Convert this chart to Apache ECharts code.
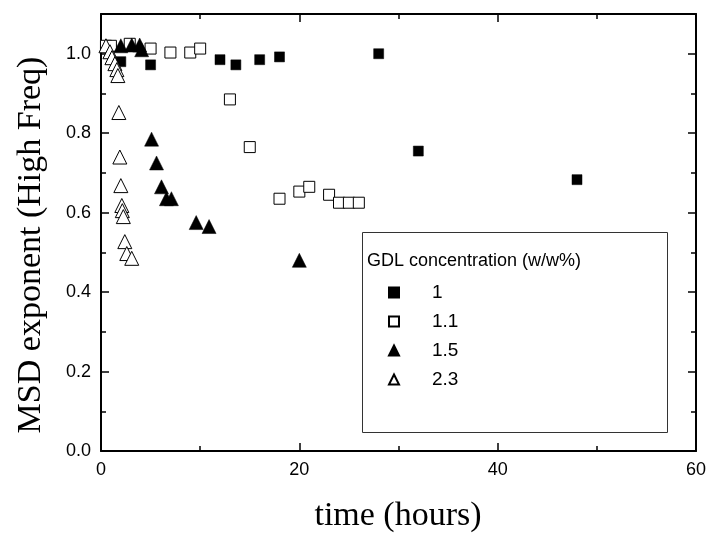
<!DOCTYPE html>
<html>
<head>
<meta charset="utf-8">
<script src="https://cdn.jsdelivr.net/npm/echarts@6/dist/echarts.min.js"></script>
<style>html,body{margin:0;padding:0;background:#fff}#c{width:710px;height:534px}</style>
</head>
<body>
<div id="c"></div>
<script>
// Data (time in hours, MSD exponent)
var seriesNames = ['1', '1.1', '1.5', '2.3'];
var gdl1 = [[2,0.98],[5,0.972],[12,0.985],[13.6,0.972],[16,0.985],[18,0.992],[28,1.0],[32,0.755],[48,0.683]];
var gdl11 = [[0.5,1.02],[1.0,1.02],[2.9,1.025],[5,1.013],[7,1.003],[9,1.003],[10,1.013],[13,0.885],[15,0.765],[18,0.635],[20,0.653],[21,0.665],[23,0.645],[24,0.625],[25,0.625],[26,0.625]];
var gdl15 = [[2,1.02],[3.1,1.022],[3.9,1.022],[4.1,1.01],[5.1,0.785],[5.6,0.725],[6.1,0.665],[6.6,0.635],[7.1,0.635],[9.6,0.575],[10.9,0.565],[20,0.48]];
var gdl23 = [[0.5,1.02],[0.9,1.005],[1.1,0.99],[1.4,0.975],[1.6,0.96],[1.7,0.945],[1.8,0.852],[1.9,0.74],[2.0,0.668],[2.1,0.618],[2.15,0.605],[2.25,0.59],[2.4,0.527],[2.6,0.497],[3.1,0.485]];
var xTicks = {min:0, max:60, interval:20};
var yTicks = {min:0, max:1.1, interval:0.2};
var xTitle = 'time (hours)';
var yTitle = 'MSD exponent (High Freq)';
var legendTitle = 'GDL concentration (w/w%)';

var chart = echarts.init(document.getElementById('c'));
var FONT = '"Liberation Sans", Arial, sans-serif';
function mkAxis(range, pos, show, fmt){
  return {type:'value', position:pos, min:range.min, max:range.max, interval:range.interval,
    axisLine:{show:true, onZero:false, lineStyle:{color:'#000', width:2}},
    axisTick:{show:true, inside:true, length:8, lineStyle:{color:'#000', width:1.5}},
    minorTick:{show:true, splitNumber:2, length:5, lineStyle:{color:'#000', width:1.5}},
    axisLabel:{show:show, showMaxLabel:(pos==='bottom'), margin:10, color:'#000', fontSize:18, fontFamily:FONT,
      formatter:fmt},
    splitLine:{show:false}, minorSplitLine:{show:false}};
}
function sc(name, data, symbol, size, filled){
  return {name:name, type:'scatter', xAxisIndex:0, yAxisIndex:0, data:data, symbol:symbol, symbolSize:size,
    itemStyle: filled ? {color:'#000', borderColor:'#000', borderWidth:0.5, opacity:1}
                      : {color:'#fff', borderColor:'#000', borderWidth:1, opacity:1},
    emphasis:{disabled:true}};
}
chart.setOption({
  animation:false,
  backgroundColor:'#fff',
  grid:{left:101, right:14, top:14, bottom:83},
  xAxis:[mkAxis(xTicks,'bottom',true,function(v){return String(v);}), mkAxis(xTicks,'top',false)],
  yAxis:[mkAxis(yTicks,'left',true,function(v){return v.toFixed(1);}), mkAxis(yTicks,'right',false)],
  legend:{orient:'vertical', left:383, top:278, itemWidth:10, itemHeight:10, itemGap:10,
    textStyle:{color:'#000', fontSize:19, fontFamily:FONT, padding:[0,0,0,28]},
    data:seriesNames},
  graphic:[
    {type:'rect', left:362, top:232, shape:{width:305, height:200}, style:{fill:'#fff', stroke:'#333', lineWidth:1}, z:0},
    {type:'text', left:367, top:252, style:{text:legendTitle, fill:'#000', font:'18px ' + FONT}, z:1},
    {type:'text', x:398, y:516, style:{text:xTitle, fill:'#000', align:'center', verticalAlign:'middle', font:'34px "Liberation Serif", "Times New Roman", serif'}, z:1},
    {type:'text', x:31, y:245, rotation:Math.PI/2, style:{text:yTitle, fill:'#000', align:'center', verticalAlign:'middle', font:'34px "Liberation Serif", "Times New Roman", serif'}, z:1}
  ],
  series:[
    sc('1', gdl1, 'rect', 10, true),
    sc('1.1', gdl11, 'rect', 11, false),
    sc('1.5', gdl15, 'triangle', 14, true),
    sc('2.3', gdl23, 'triangle', 14, false)
  ]
});
</script>
</body>
</html>
